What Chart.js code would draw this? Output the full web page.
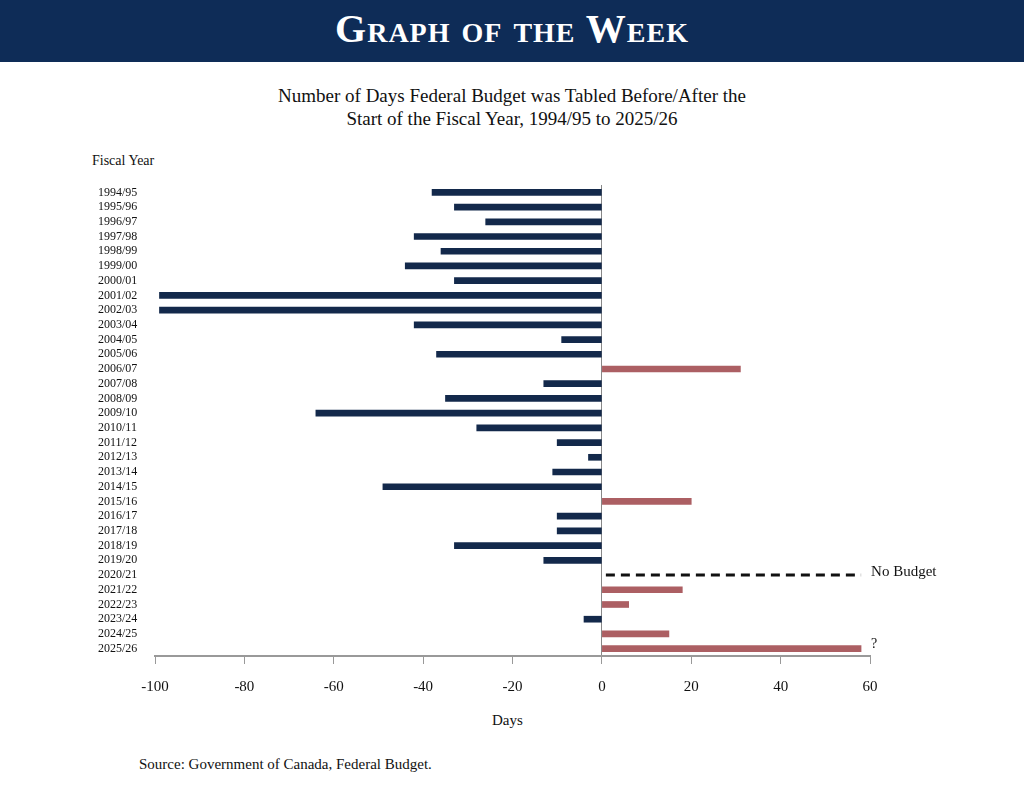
<!DOCTYPE html>
<html>
<head>
<meta charset="utf-8">
<script src="https://cdn.jsdelivr.net/npm/chart.js@4"></script>
<style>
  body { margin: 0; background: #fff; font-family: "Liberation Serif", "DejaVu Serif", serif; }
  #page { position: relative; width: 1024px; height: 791px; overflow: hidden; }
  #banner { position: absolute; left: 0; top: 0; width: 1024px; height: 62px; background: #0e2c57; color: #fff;
    text-align: center; font-size: 40px; line-height: 58px; font-variant: small-caps; font-weight: bold; letter-spacing: 1px; }
  .txt { position: absolute; color: #111; }
  #title { left: 0; width: 1024px; top: 84px; text-align: center; font-size: 19px; line-height: 23px; }
  #wrap { position: absolute; left: 0; top: 150px; width: 1024px; height: 580px; }
</style>
</head>
<body>
<div id="page">
  <div id="banner">Graph of the Week</div>
  <div class="txt" id="title">Number of Days Federal Budget was Tabled Before/After the<br>Start of the Fiscal Year, 1994/95 to 2025/26</div>
  <div class="txt" style="left:92px;top:153px;font-size:14px;">Fiscal Year</div>
  <div class="txt" style="left:492px;top:712px;font-size:15px;">Days</div>
  <div class="txt" style="left:139px;top:756px;font-size:15px;">Source: Government of Canada, Federal Budget.</div>
  <div id="wrap"><canvas id="chart"></canvas></div>
</div>
<script>
// 财年
const years = ['1994/95','1995/96','1996/97','1997/98','1998/99','1999/00','2000/01','2001/02','2002/03','2003/04',
  '2004/05','2005/06','2006/07','2007/08','2008/09','2009/10','2010/11','2011/12','2012/13','2013/14',
  '2014/15','2015/16','2016/17','2017/18','2018/19','2019/20','2020/21','2021/22','2022/23','2023/24',
  '2024/25','2025/26'];
// 天数（负数 = 财年开始前）
const days = [-38,-33,-26,-42,-36,-44,-33,-99,-99,-42,
  -9,-37,31,-13,-35,-64,-28,-10,-3,-11,
  -49,20,-10,-10,-33,-13,null,18,6,-4,
  15,58];
const noBudgetYear = '2020/21';
const noBudgetEnd = 58;
const xTicks = [-100,-80,-60,-40,-20,0,20,40,60];

const navy = '#13294b', red = '#ac5f63';

// 注释：无预算虚线和问号
const notes = {
  id: 'notes',
  afterDatasetsDraw(chart) {
    const { ctx, scales: { x, y } } = chart;
    const yy = y.getPixelForValue(years.indexOf(noBudgetYear));
    ctx.save();
    ctx.strokeStyle = '#111';
    ctx.lineWidth = 3;
    ctx.setLineDash([9, 6]);
    ctx.beginPath();
    ctx.moveTo(x.getPixelForValue(0) + 4, yy);
    ctx.lineTo(x.getPixelForValue(noBudgetEnd), yy);
    ctx.stroke();
    ctx.fillStyle = '#111';
    ctx.font = '15px "Liberation Serif", serif';
    ctx.textBaseline = 'middle';
    ctx.fillText('No Budget', x.getPixelForValue(noBudgetEnd) + 10, yy - 3);
    const yl = y.getPixelForValue(years.length - 1);
    ctx.font = '14px "Liberation Serif", serif';
    ctx.fillText('?', x.getPixelForValue(noBudgetEnd) + 10, yl - 4);
    ctx.restore();
  }
};

new Chart(document.getElementById('chart'), {
  type: 'bar',
  data: {
    labels: years,
    datasets: [{
      data: days,
      backgroundColor: days.map(v => v > 0 ? red : navy),
      barThickness: 6
    }]
  },
  options: {
    indexAxis: 'y',
    responsive: true,
    maintainAspectRatio: false,
    animation: false,
    layout: { padding: { left: 98, right: 154, top: 35, bottom: 24 } },
    plugins: { legend: { display: false }, tooltip: { enabled: false } },
    scales: {
      x: {
        min: -100, max: 60,
        afterBuildTicks: s => { s.ticks = xTicks.map(v => ({ value: v })); },
        afterFit: s => { s.height = 50; },
        border: { color: '#999', width: 2 },
        grid: {
          color: c => c.tick && c.tick.value === 0 ? '#888' : 'rgba(0,0,0,0)',
          tickColor: '#999', tickLength: 8, lineWidth: 1
        },
        ticks: { color: '#111', padding: 14, font: { family: '"Liberation Serif", serif', size: 15 } }
      },
      y: {
        afterFit: s => { s.width = 57; },
        afterBuildTicks: s => { s.paddingBottom = 0; },
        border: { display: false },
        grid: { display: false },
        ticks: { color: '#111', crossAlign: 'far', padding: 4, autoSkip: false,
          font: { family: '"Liberation Serif", serif', size: 12 } }
      }
    }
  },
  plugins: [notes, {
    id: 'shiftBars',
    // 轻微压缩类别区间，使末行高于 x 轴
    afterDataLimits(chart, args) {
      if (args.scale.axis === 'y') { args.scale.max = years.length - 0.5 + 0.4; }
    }
  }]
});
</script>
</body>
</html>
